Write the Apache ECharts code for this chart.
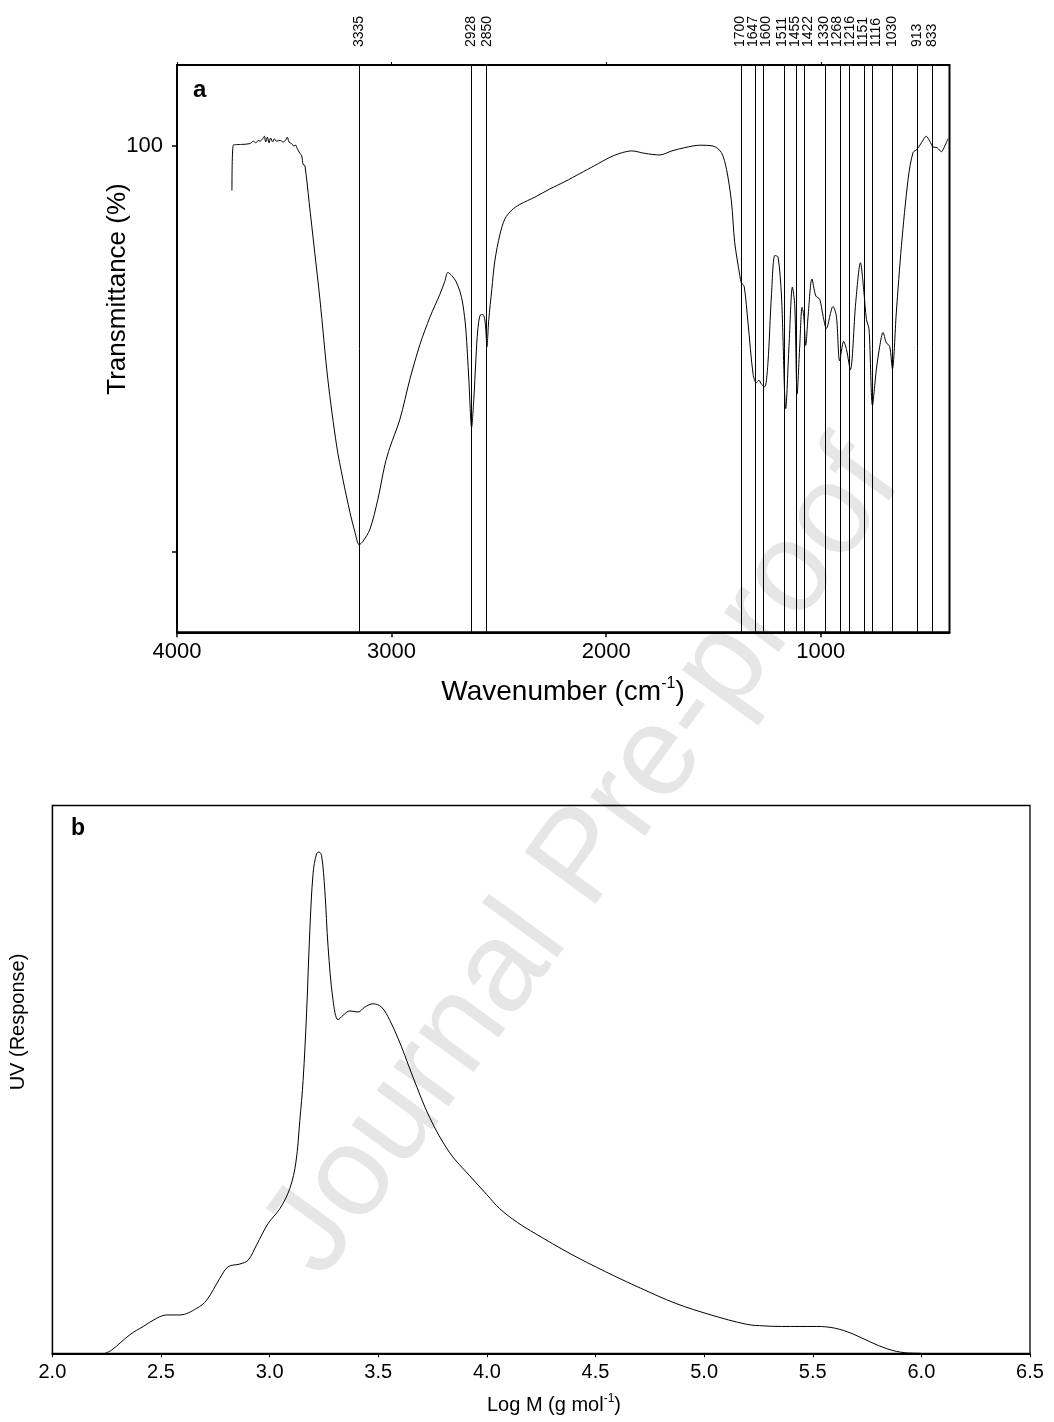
<!DOCTYPE html>
<html>
<head>
<meta charset="utf-8">
<script src="https://cdn.jsdelivr.net/npm/echarts/dist/echarts.min.js"></script>
<style>
html,body{margin:0;padding:0;background:#fff;}
#c{width:1054px;height:1422px;}
</style>
</head>
<body>
<div id="c"></div>
<script>
// ---------- Panel a: FTIR ----------
const ftirWavenumber = [3744,3738,3699,3660,3645,3632,3621,3613,3601,3593,3587,3579,3571,3564,3554,3547,3536,3520,3505,3492,3486,3478,3466,3455,3446,3440,3427,3419,3412,3404,3384,3360,3334,3297,3256,3227,3194,3171,3151,3134,3101,3064,3031,3008,2961,2915,2868,2821,2775,2752,2738,2719,2700,2682,2668,2654,2640,2627,2617,2607,2598,2584,2570,2561,2556,2547,2533,2519,2495,2472,2440,2402,2332,2263,2193,2123,2053,1983,1936,1881,1820,1750,1694,1634,1564,1502,1463,1439,1416,1401,1377,1370,1357,1339,1315,1300,1288,1276,1261,1246,1230,1214,1199,1183,1163,1148,1132,1121,1110,1098,1087,1079,1070,1059,1041,1023,1005,989,974,943,927,912,893,880,862,837,815,800,787,775,759,741,725,710,694,679,666,648,624,593,570,551,531,508,492,477,458,438,422,407];
const ftirTransmittance = [94.5,100.1,100.2,100.3,100.6,100.4,100.7,100.6,100.9,101.2,100.5,101.1,100.4,101.0,100.5,100.9,100.6,100.7,100.5,100.8,101.1,100.5,100.3,100.0,100.1,99.7,99.1,98.8,97.7,97.6,93.0,87.3,81.1,71.2,63.0,58.9,54.8,52.4,50.8,51.2,52.7,56.4,60.7,62.8,66.3,71.2,75.5,78.9,81.7,83.3,84.4,84.0,83.3,82.1,80.5,77.4,71.2,65.3,68.7,73.7,77.4,79.2,79.1,77.4,75.2,78.6,82.3,85.8,89.1,91.0,92.1,92.8,93.7,94.7,95.6,96.6,97.6,98.6,99.1,99.4,99.1,98.9,99.4,99.8,100.1,100.0,99.2,97.1,93.1,88.1,84.0,83.1,82.7,78.2,71.8,70.8,71.1,70.6,70.3,73.3,81.5,86.5,86.3,81.5,67.6,75.3,82.6,80.3,69.4,75.3,80.1,79.0,75.4,79.0,83.6,81.5,81.1,79.0,77.5,80.2,79.0,73.5,75.9,74.9,72.4,80.7,85.6,82.3,78.6,77.4,68.0,72.4,75.3,77.0,75.7,75.3,72.5,79.4,87.7,95.9,99.2,99.6,100.4,101.2,100.6,99.9,99.8,99.3,100.0,100.9];
// vertical marker lines (where they are drawn on the wavenumber axis) and their printed labels
const peakLinePositions = [3151,2627,2557,1369,1307,1269,1172,1113,1078,977,911,865,795,759,666,551,481];
const peakLabels = ['3335','2928','2850','1700','1647','1600','1511','1455','1422','1330','1268','1216','1151','1116','1030','913','833'];
const ftirXTicks = [1000,2000,3000,4000];
const ftirYTicks = [50,100];
const ftirYLabels = [100];

// ---------- Panel b: GPC ----------
const gpcLogM = [2.242,2.273,2.357,2.418,2.480,2.526,2.587,2.664,2.710,2.771,2.809,2.863,2.901,2.940,2.993,3.047,3.093,3.121,3.139,3.154,3.170,3.185,3.200,3.216,3.228,3.239,3.254,3.269,3.292,3.315,3.338,3.369,3.407,3.438,3.476,3.515,3.553,3.591,3.622,3.660,3.737,3.829,3.921,3.999,4.059,4.140,4.221,4.383,4.546,4.707,4.870,5.032,5.195,5.276,5.356,5.519,5.600,5.681,5.763,5.844,5.925,5.998];
const gpcResponse = [0,0.6,3.4,4.9,6.4,7.0,7.0,8.2,9.7,13.7,15.8,16.3,17.0,19.8,23.7,26.4,30.1,34.9,42.5,49.8,62.1,77.2,87.6,91.2,91.5,90.9,84.5,74.2,64.4,60.9,61.7,62.5,62.3,63.2,63.8,63.2,60.8,57.5,54.4,50.4,43.0,36.6,32.4,29.0,26.4,23.9,21.9,18.2,14.9,11.9,9.1,7.0,5.3,5.0,4.9,4.9,4.6,3.6,2.1,0.8,0.1,0];

const FONT = "'Liberation Sans', Arial, Helvetica, sans-serif";
const chart = echarts.init(document.getElementById('c'), null, {renderer: 'canvas'});

const ftirData = ftirWavenumber.map((v, i) => [v, ftirTransmittance[i]]);
const gpcData = gpcLogM.map((v, i) => [v, gpcResponse[i]]);

const option = {
  animation: false,
  backgroundColor: '#ffffff',
  textStyle: {fontFamily: FONT, color: '#000'},
  grid: [
    {left: 177, top: 65, width: 772.5, height: 567.3, show: true, borderColor: '#000', borderWidth: 2, backgroundColor: 'transparent'},
    {left: 52.4, top: 805.5, width: 977.6, height: 547.8, show: true, borderColor: '#000', borderWidth: 1.3, backgroundColor: 'transparent'}
  ],
  xAxis: [
    {
      gridIndex: 0, type: 'value', inverse: true, min: 400, max: 4000,
      axisLine: {show: true, onZero: false, lineStyle: {color: '#000', width: 2}},
      axisTick: {show: true, customValues: ftirXTicks, length: 5, lineStyle: {color: '#000', width: 1.5}},
      axisLabel: {show: true, customValues: ftirXTicks, fontSize: 22, color: '#000', margin: 9, fontFamily: FONT,
        formatter: v => String(Math.round(v))},
      splitLine: {show: false}
    },
    {
      gridIndex: 1, type: 'value', min: 2, max: 6.5, interval: 0.5,
      axisLine: {show: true, onZero: false, lineStyle: {color: '#000', width: 2}},
      axisTick: {show: true, length: 4, lineStyle: {color: '#000', width: 1}},
      axisLabel: {show: true, fontSize: 20, color: '#000', margin: 9, fontFamily: FONT,
        formatter: v => Number(v).toFixed(1)},
      splitLine: {show: false}
    },
    {
      gridIndex: 0, type: 'value', position: 'top', inverse: true, min: 400, max: 4000,
      axisLine: {show: false},
      axisTick: {show: true, customValues: ftirXTicks, length: 3, lineStyle: {color: '#000', width: 1}},
      axisLabel: {show: false},
      splitLine: {show: false}
    }
  ],
  yAxis: [
    {
      gridIndex: 0, type: 'value', min: 40, max: 110,
      axisLine: {show: true, onZero: false, lineStyle: {color: '#000', width: 2}},
      axisTick: {show: true, customValues: ftirYTicks, length: 5, lineStyle: {color: '#000', width: 1.5}},
      axisLabel: {show: true, customValues: ftirYLabels, fontSize: 22, color: '#000', margin: 14, fontFamily: FONT,
        formatter: v => String(Math.round(v))},
      splitLine: {show: false}
    },
    {
      gridIndex: 1, type: 'value', min: 0, max: 100,
      axisLine: {show: true, onZero: false, lineStyle: {color: '#000', width: 1.3}},
      axisTick: {show: false}, axisLabel: {show: false}, splitLine: {show: false}
    }
  ],
  series: [
    {
      type: 'line', xAxisIndex: 0, yAxisIndex: 0, data: ftirData,
      showSymbol: false, symbol: 'none', smooth: 0.3,
      lineStyle: {color: '#000', width: 1}, silent: true, z: 3,
      markLine: {
        silent: true, symbol: ['none', 'none'], label: {show: false},
        lineStyle: {color: '#000', width: 1, type: 'solid'},
        data: peakLinePositions.map(v => ({xAxis: v}))
      }
    },
    {
      type: 'line', xAxisIndex: 1, yAxisIndex: 1, data: gpcData,
      showSymbol: false, symbol: 'none', smooth: 0.35,
      lineStyle: {color: '#000', width: 1}, silent: true, z: 3
    }
  ]
};
chart.setOption(option);

// ---- peak labels: spread to avoid overlap, then draw rotated ----
const pxs = peakLinePositions.map(v => chart.convertToPixel({xAxisIndex: 0}, v));
const order = pxs.map((p, i) => i).sort((a, b) => pxs[a] - pxs[b]);
const GAP = 13;
let clusters = order.map(i => ({idx: [i], sum: pxs[i]}));
let changed = true;
function cStart(c) { return c.sum / c.idx.length - (c.idx.length - 1) * GAP / 2; }
function cEnd(c) { return cStart(c) + (c.idx.length - 1) * GAP; }
while (changed) {
  changed = false;
  for (let k = 0; k < clusters.length - 1; k++) {
    if (cStart(clusters[k + 1]) < cEnd(clusters[k]) + GAP) {
      clusters[k] = {idx: clusters[k].idx.concat(clusters[k + 1].idx), sum: clusters[k].sum + clusters[k + 1].sum};
      clusters.splice(k + 1, 1);
      changed = true;
      break;
    }
  }
}
const labelX = new Array(pxs.length);
clusters.forEach(c => { const s = cStart(c); c.idx.forEach((i, j) => { labelX[i] = s + j * GAP; }); });

const graphics = [];
// watermark
graphics.push({
  type: 'text', x: 584, y: 860, rotation: 54 * Math.PI / 180, z: -10, silent: true,
  style: {text: 'Journal Pre-proof', fontSize: 128, fontFamily: FONT, fill: '#e6e6e6', align: 'center', verticalAlign: 'middle'}
});
peakLabels.forEach((t, i) => {
  graphics.push({
    type: 'text', x: labelX[i], y: 47, rotation: Math.PI / 2, silent: true,
    style: {text: t, fontSize: 14, fontFamily: FONT, fill: '#000', align: 'left', verticalAlign: 'middle'}
  });
});
// panel letters
graphics.push({type: 'text', x: 193, y: 90, silent: true,
  style: {text: 'a', fontSize: 24, fontWeight: 'bold', fontFamily: FONT, fill: '#000', align: 'left', verticalAlign: 'middle'}});
graphics.push({type: 'text', x: 71, y: 829, silent: true,
  style: {text: 'b', fontSize: 23, fontWeight: 'bold', fontFamily: FONT, fill: '#000', align: 'left', verticalAlign: 'middle'}});
// axis titles
graphics.push({type: 'text', x: 118, y: 289, rotation: Math.PI / 2, silent: true,
  style: {text: 'Transmittance (%)', fontSize: 26, fontFamily: FONT, fill: '#000', align: 'center', verticalAlign: 'middle'}});
graphics.push({type: 'text', x: 563, y: 692, silent: true,
  style: {text: '{b|Wavenumber (cm}{s|-1}{b|)}', fontFamily: FONT, fill: '#000', align: 'center', verticalAlign: 'middle',
    rich: {b: {fontSize: 28, fontFamily: FONT, lineHeight: 32, fill: '#000'}, s: {fontSize: 16, fontFamily: FONT, lineHeight: 32, verticalAlign: 'top', fill: '#000'}}}});
graphics.push({type: 'text', x: 18, y: 1022, rotation: Math.PI / 2, silent: true,
  style: {text: 'UV (Response)', fontSize: 20, fontFamily: FONT, fill: '#000', align: 'center', verticalAlign: 'middle'}});
graphics.push({type: 'text', x: 554, y: 1405, silent: true,
  style: {text: '{b|Log M (g mol}{s|-1}{b|)}', fontFamily: FONT, fill: '#000', align: 'center', verticalAlign: 'middle',
    rich: {b: {fontSize: 20, fontFamily: FONT, lineHeight: 24, fill: '#000'}, s: {fontSize: 12, fontFamily: FONT, lineHeight: 24, verticalAlign: 'top', fill: '#000'}}}});

chart.setOption({graphic: {elements: graphics}});
</script>
</body>
</html>
